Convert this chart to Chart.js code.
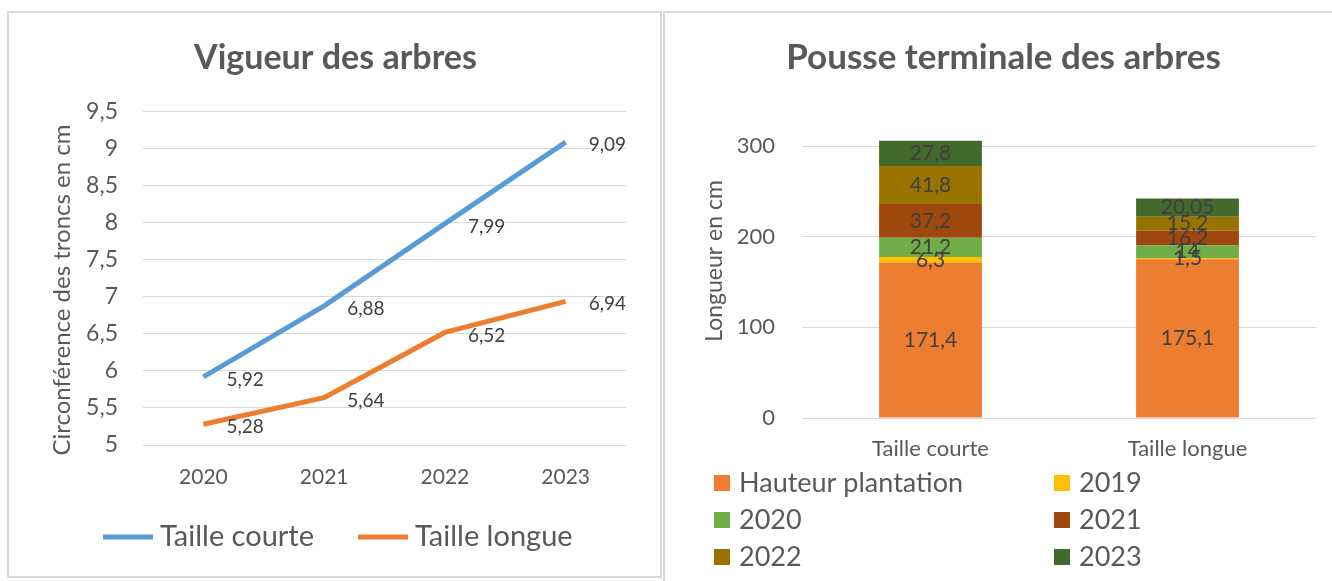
<!DOCTYPE html>
<html lang="fr">
<head>
<meta charset="UTF-8">
<title>Vigueur et pousse terminale des arbres</title>
<script src="https://cdn.jsdelivr.net/npm/chart.js@4"></script>
<style>
  body { margin: 0; background: #fff; width: 1332px; height: 581px; overflow: hidden; position: relative; }
  .box { position: absolute; border: 2px solid #d9d9d9; background: #fff; }
  #box-vigueur { left: 7px; top: 11px; width: 651px; height: 563px; }
  #box-pousse { left: 663px; top: 11px; width: 667px; height: 568px; }
  canvas { display: block; }
</style>
</head>
<body>
<div class="box" id="box-vigueur"><canvas id="vigueur" width="651" height="563"></canvas></div>
<div class="box" id="box-pousse"><canvas id="pousse" width="667" height="568"></canvas></div>

<script>
// --- données : vigueur (circonférence des troncs, cm)
const annees = ['2020', '2021', '2022', '2023'];
const tailleCourte = [5.92, 6.88, 7.99, 9.09];
const tailleLongue = [5.28, 5.64, 6.52, 6.94];

// --- données : pousse terminale (cm)
const modalites = ['Taille courte', 'Taille longue'];
const hauteurPlantation = [171.4, 175.1];
const pousse2019 = [6.3, 1.5];
const pousse2020 = [21.2, 14];
const pousse2021 = [37.2, 16.2];
const pousse2022 = [41.8, 15.2];
const pousse2023 = [27.8, 20.05];

const FONT = 'Lato, "Open Sans", sans-serif';
const GRIS = '#595959';
const fr = v => String(v).replace('.', ',');

Chart.defaults.font.family = FONT;
Chart.defaults.color = GRIS;

// étiquettes de données (à droite du point pour les courbes, au centre pour les barres)
const etiquettes = {
  id: 'etiquettes',
  afterDatasetsDraw(chart, args, opts) {
    const ctx = chart.ctx;
    ctx.save();
    ctx.font = opts.size + 'px ' + FONT;
    ctx.fillStyle = '#404040';
    ctx.textBaseline = 'middle';
    chart.data.datasets.forEach((ds, i) => {
      chart.getDatasetMeta(i).data.forEach((el, j) => {
        const txt = fr(ds.data[j]);
        if (chart.config.type === 'line') {
          ctx.textAlign = 'left';
          ctx.fillText(txt, el.x + 23, el.y + 3);
        } else {
          ctx.textAlign = 'center';
          ctx.fillText(txt, el.x, (el.y + el.base) / 2);
        }
      });
    });
    ctx.restore();
  }
};

// légende façon Excel, en grille
const legende = {
  id: 'legende',
  afterDraw(chart, args, opts) {
    const ctx = chart.ctx;
    ctx.save();
    ctx.font = opts.size + 'px ' + FONT;
    ctx.textBaseline = 'middle';
    ctx.textAlign = 'left';
    chart.data.datasets.forEach((ds, i) => {
      const x = opts.x[i % opts.cols];
      const y = opts.y[Math.floor(i / opts.cols)];
      if (opts.style === 'line') {
        ctx.strokeStyle = ds.borderColor;
        ctx.lineWidth = 5;
        ctx.beginPath();
        ctx.moveTo(x, y);
        ctx.lineTo(x + opts.box, y);
        ctx.stroke();
      } else {
        ctx.fillStyle = ds.backgroundColor;
        ctx.fillRect(x, y - opts.box / 2, opts.box, opts.box);
      }
      ctx.fillStyle = GRIS;
      ctx.fillText(ds.label, x + opts.box + opts.gap, y);
    });
    ctx.restore();
  }
};

// titre d'axe vertical (placé comme dans le classeur)
const titreAxe = {
  id: 'titreAxe',
  afterDraw(chart, args, opts) {
    const ctx = chart.ctx;
    ctx.save();
    ctx.font = opts.size + 'px ' + FONT;
    ctx.fillStyle = GRIS;
    ctx.textAlign = 'center';
    ctx.textBaseline = 'middle';
    ctx.translate(opts.x, opts.y);
    ctx.rotate(-Math.PI / 2);
    ctx.fillText(opts.text, 0, 0);
    ctx.restore();
  }
};

new Chart(document.getElementById('vigueur'), {
  type: 'line',
  data: {
    labels: annees,
    datasets: [
      { label: 'Taille courte', data: tailleCourte, borderColor: '#5b9bd5', backgroundColor: '#5b9bd5',
        borderWidth: 5, pointRadius: 0, tension: 0 },
      { label: 'Taille longue', data: tailleLongue, borderColor: '#ed7d31', backgroundColor: '#ed7d31',
        borderWidth: 5, pointRadius: 0, tension: 0 }
    ]
  },
  options: {
    responsive: false,
    animation: false,
    layout: { padding: { left: 36, right: 34, top: 0, bottom: 71 } },
    plugins: {
      legend: { display: false },
      tooltip: { enabled: false },
      title: { display: true, text: 'Vigueur des arbres', color: GRIS,
        font: { size: 34, weight: 'bold' }, padding: { top: 25, bottom: 33 } },
      etiquettes: { size: 19 },
      legende: { style: 'line', cols: 2, x: [94, 349], y: [524], box: 50, gap: 7, size: 29 },
      titreAxe: { text: 'Circonférence des troncs en cm', x: 53, y: 277, size: 24 }
    },
    scales: {
      x: {
        offset: true,
        grid: { display: false },
        border: { display: false },
        ticks: { font: { size: 21 }, padding: 12 },
        afterFit: s => { s.height = 60; }
      },
      y: {
        min: 5, max: 9.5,
        grid: { color: '#d9d9d9', drawTicks: false },
        border: { display: false },
        ticks: { stepSize: 0.5, font: { size: 23 }, padding: 25, callback: v => fr(v) },
        afterFit: s => { s.width = 98; }
      }
    }
  },
  plugins: [etiquettes, legende, titreAxe]
});

const barre = (label, data, color) => ({ label, data, backgroundColor: color, clip: false,
  barPercentage: 0.4, categoryPercentage: 1 });

new Chart(document.getElementById('pousse'), {
  type: 'bar',
  data: {
    labels: modalites,
    datasets: [
      barre('Hauteur plantation', hauteurPlantation, '#ed7d31'),
      barre('2019', pousse2019, '#ffc000'),
      barre('2020', pousse2020, '#70ad47'),
      barre('2021', pousse2021, '#9e480e'),
      barre('2022', pousse2022, '#997300'),
      barre('2023', pousse2023, '#43682b')
    ]
  },
  options: {
    responsive: false,
    animation: false,
    layout: { padding: { left: 26, right: 16, top: 0, bottom: 103 } },
    plugins: {
      legend: { display: false },
      tooltip: { enabled: false },
      title: { display: true, text: 'Pousse terminale des arbres', color: GRIS,
        font: { size: 35, weight: 'bold' }, padding: { top: 24, bottom: 67 } },
      etiquettes: { size: 21 },
      legende: { style: 'box', cols: 2, x: [49, 389], y: [470, 507, 544], box: 16, gap: 9, size: 27 },
      titreAxe: { text: 'Longueur en cm', x: 50, y: 248, size: 23 }
    },
    scales: {
      x: {
        stacked: true,
        grid: { display: false },
        border: { display: false },
        ticks: { font: { size: 22 }, padding: 10 },
        afterFit: s => { s.height = 60; }
      },
      y: {
        stacked: true,
        min: 0, max: 300,
        grid: { color: '#d9d9d9', drawTicks: false },
        border: { display: false },
        ticks: { stepSize: 100, font: { size: 22 }, padding: 27 },
        afterFit: s => { s.width = 111; }
      }
    }
  },
  plugins: [etiquettes, legende, titreAxe]
});
</script>
</body>
</html>
